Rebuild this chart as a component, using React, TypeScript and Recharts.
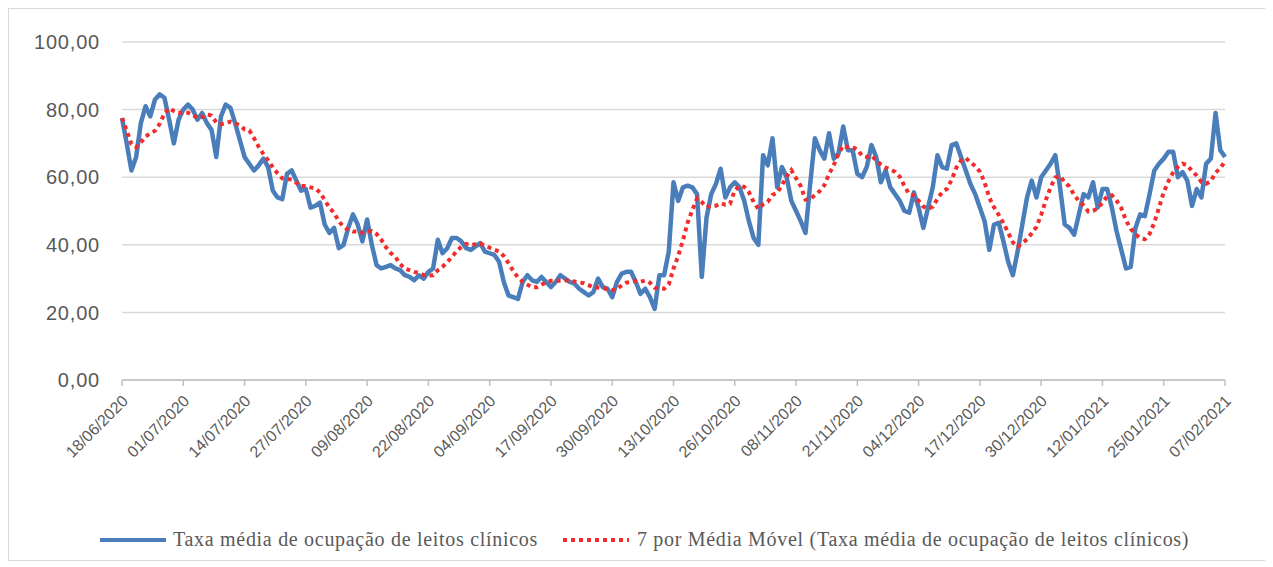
import { LineChart, Line, XAxis, YAxis, CartesianGrid } from 'recharts'

// Taxa média de ocupação de leitos clínicos (%), one value per day
const jun2020 = [77.5, 70, 62, 66, 76, 81, 78, 83, 84.5, 83.5, 77, 70, 77]
const jul2020 = [
  80, 81.5, 80, 77, 79, 76, 74, 66, 78, 81.5, 80.5, 76, 71, 66, 64, 62,
  63.5, 65.5, 63, 56, 54, 53.5, 61, 62, 59, 56, 56.5, 51, 51.5, 52.5, 46,
]
const aug2020 = [
  43.5, 45, 39, 40, 45, 49, 46, 41, 47.5, 40, 34, 33, 33.5, 34, 33, 32.5,
  31, 30.5, 29.5, 31, 30, 32, 33, 41.5, 37.5, 39, 42, 42, 41, 39, 38.5,
]
const sep2020 = [
  39.5, 40.5, 38, 37.5, 37, 35, 29, 25, 24.5, 24, 29, 31, 29.5, 29, 30.5,
  29, 27.5, 29, 31, 30, 29, 28.5, 27, 26, 25, 26, 30, 27.5, 27, 24.5,
]
const oct2020 = [
  29, 31.5, 32, 32, 29, 25.5, 27, 24.5, 21, 31, 31, 38, 58.5, 53, 57, 57.5,
  57, 55, 30.5, 48, 55, 58, 62.5, 54, 57, 58.5, 57, 53, 47, 42, 40,
]
const nov2020 = [
  66.5, 63.5, 71.5, 57, 63, 60, 53, 50, 47, 43.5, 58, 71.5, 68, 65.5, 73,
  65.5, 67, 75, 68, 68, 61, 60, 63, 69.5, 66, 58.5, 62, 57, 55, 53,
]
const dec2020 = [
  50, 49.5, 55.5, 51, 45, 51, 57, 66.5, 63, 62.5, 69.5, 70, 66, 62, 58, 55,
  51, 47, 38.5, 46, 46.5, 41, 35, 31, 38, 46, 54, 59, 54, 60, 62,
]
const jan2021 = [
  64, 66.5, 57, 46, 45, 43, 49, 55, 54, 58.5, 51, 56.5, 56.5, 51, 44, 38.5,
  33, 33.5, 45, 49, 48.5, 55, 62, 64, 65.5, 67.5, 67.5, 60, 61.5, 59, 51.5,
]
const feb2021 = [56.5, 54, 64, 65.5, 79, 68, 66]

const occupancy = [
  ...jun2020, ...jul2020, ...aug2020, ...sep2020, ...oct2020,
  ...nov2020, ...dec2020, ...jan2021, ...feb2021,
]

const START_DATE = Date.UTC(2020, 5, 18)

const tickLabels = [
  '18/06/2020', '01/07/2020', '14/07/2020', '27/07/2020', '09/08/2020',
  '22/08/2020', '04/09/2020', '17/09/2020', '30/09/2020', '13/10/2020',
  '26/10/2020', '08/11/2020', '21/11/2020', '04/12/2020', '17/12/2020',
  '30/12/2020', '12/01/2021', '25/01/2021', '07/02/2021',
]

const yTicks = [0, 20, 40, 60, 80, 100]

const SERIES_NAME = 'Taxa média de ocupação de leitos clínicos'
const MA_NAME = '7 por Média Móvel (Taxa média de ocupação de leitos clínicos)'

const pad = (n: number) => String(n).padStart(2, '0')

const formatDate = (ms: number) => {
  const d = new Date(ms)
  return `${pad(d.getUTCDate())}/${pad(d.getUTCMonth() + 1)}/${d.getUTCFullYear()}`
}

// trailing moving average, like Excel's "Média Móvel" trendline
const movingAverage = (values: number[], period: number) =>
  values.map((_, i) => {
    const win = values.slice(Math.max(0, i - period + 1), i + 1)
    return win.reduce((a, b) => a + b, 0) / win.length
  })

const dates = occupancy.map((_, i) => formatDate(START_DATE + i * 86400000))
const ma7 = movingAverage(occupancy, 7)

const data = occupancy.map((v, i) => ({
  idx: i,
  date: dates[i],
  taxa: v,
  media: ma7[i],
}))

const tickIdx = tickLabels.map((l) => dates.indexOf(l))

const fmtNum = (v: number) => v.toFixed(2).replace('.', ',')

const DateTick = ({ x, y, payload }: any) => (
  <g transform={`translate(${x + 7},${y + 14}) rotate(-45)`}>
    <text
      x={0}
      y={0}
      textAnchor="end"
      fill="#595959"
      fontSize={16}
      fontFamily="'Liberation Sans', Arial, sans-serif"
    >
      {dates[payload.value]}
    </text>
  </g>
)

export default function App() {
  return (
    <div
      style={{
        position: 'relative',
        width: 1257,
        height: 551,
        border: '1px solid #d9d9d9',
        background: '#fff',
      }}
    >
      <LineChart
        width={1255}
        height={470}
        data={data}
        margin={{ top: 33, right: 39, left: 13, bottom: 0 }}
      >
        <CartesianGrid vertical={false} stroke="#d9d9d9" strokeWidth={1.5} />
        <XAxis
          dataKey="idx"
          type="number"
          domain={[0, occupancy.length - 1]}
          ticks={tickIdx}
          interval={0}
          height={99}
          tickSize={6}
          axisLine={{ stroke: '#bfbfbf', strokeWidth: 1.5 }}
          tickLine={{ stroke: '#bfbfbf', strokeWidth: 1.5 }}
          tick={<DateTick />}
        />
        <YAxis
          domain={[0, 100]}
          ticks={yTicks}
          width={100}
          axisLine={false}
          tickLine={false}
          tickSize={0}
          tickMargin={22}
          tickFormatter={fmtNum}
          tick={{
            fill: '#595959',
            fontSize: 20,
            letterSpacing: 0.8,
            fontFamily: "'Liberation Sans', Arial, sans-serif",
          }}
        />
        <Line
          type="linear"
          dataKey="taxa"
          name={SERIES_NAME}
          stroke="#4a7ebb"
          strokeWidth={4.5}
          strokeLinejoin="round"
          dot={false}
          isAnimationActive={false}
        />
        <Line
          type="linear"
          dataKey="media"
          name={MA_NAME}
          stroke="#f22c2c"
          strokeWidth={4}
          strokeDasharray="4 4"
          dot={false}
          isAnimationActive={false}
        />
      </LineChart>
      <div
        style={{
          position: 'absolute',
          left: 91,
          top: 519,
          display: 'flex',
          alignItems: 'center',
          fontFamily: "'Liberation Serif', 'Times New Roman', serif",
          fontSize: 20,
          letterSpacing: 0.7,
          color: '#595959',
        }}
      >
        <svg width={66} height={6} style={{ marginRight: 7 }}>
          <line x1={0} y1={3} x2={66} y2={3} stroke="#4a7ebb" strokeWidth={4} />
        </svg>
        <span>{SERIES_NAME}</span>
        <svg width={66} height={6} style={{ marginLeft: 25, marginRight: 8 }}>
          <line x1={0} y1={3} x2={66} y2={3} stroke="#f22c2c" strokeWidth={4} strokeDasharray="4 4" />
        </svg>
        <span>{MA_NAME}</span>
      </div>
    </div>
  )
}
